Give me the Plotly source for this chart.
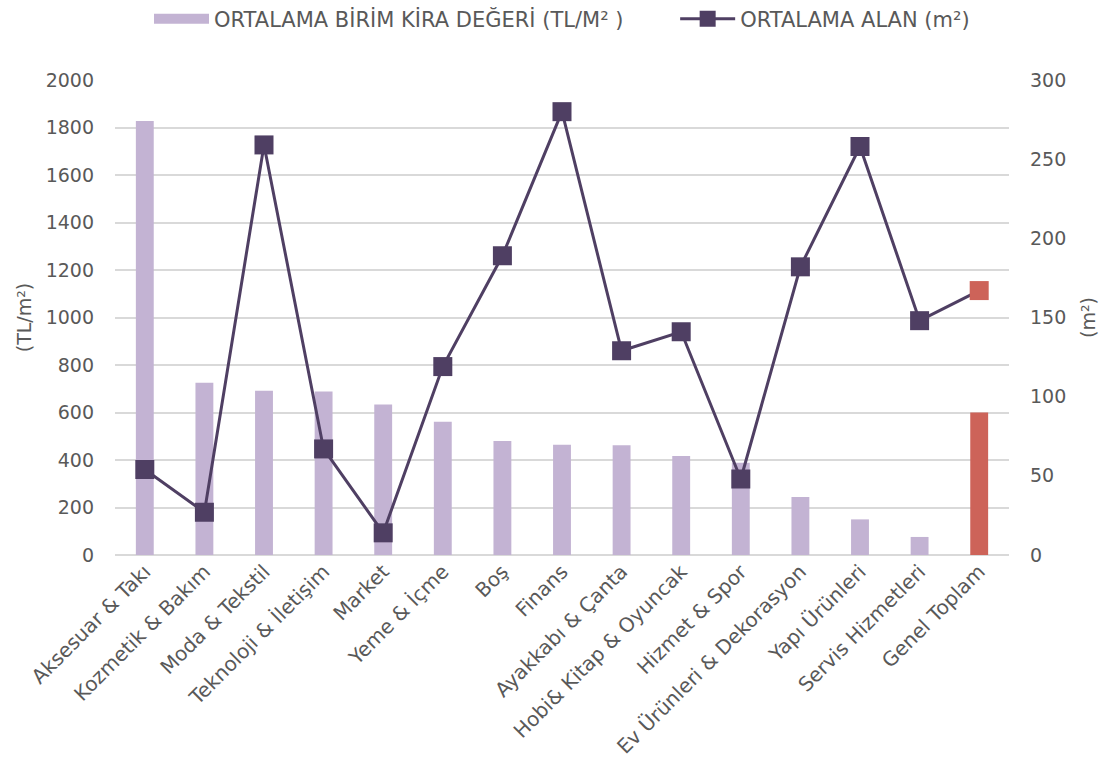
import plotly.graph_objects as go

categories = ["Aksesuar & Takı", "Kozmetik & Bakım", "Moda & Tekstil", "Teknoloji & İletişim",
              "Market", "Yeme & İçme", "Boş", "Finans", "Ayakkabı & Çanta",
              "Hobi& Kitap & Oyuncak", "Hizmet & Spor", "Ev Ürünleri & Dekorasyon",
              "Yapı Ürünleri", "Servis Hizmetleri", "Genel Toplam"]
rent_values = [1827, 725, 692, 688, 634, 561, 480, 464, 462, 417, 388, 244, 150, 76, 600]
area_values = [54, 27, 259, 67, 14, 119, 189, 280, 129, 141, 48, 182, 258, 148, 167]

bar_name = "ORTALAMA BİRİM KİRA DEĞERİ (TL/M² )"
line_name = "ORTALAMA ALAN (m²)"

BAR_COLOR = "#c3b3d3"
LINE_COLOR = "#4f3f63"
HIGHLIGHT = "#cd6359"

bar_colors = [BAR_COLOR] * (len(categories) - 1) + [HIGHLIGHT]
marker_colors = [LINE_COLOR] * (len(categories) - 1) + [HIGHLIGHT]

FONT = "DejaVu Sans"
GREY = "#595959"

fig = go.Figure()
fig.add_trace(go.Bar(
    x=categories, y=rent_values, name=bar_name, showlegend=False,
    marker=dict(color=bar_colors, line=dict(width=0)),
    yaxis="y",
))
# legend entry for the bars (wide swatch like the reference)
fig.add_trace(go.Scatter(
    x=[None], y=[None], name=bar_name + "\u00a0" * 7, mode="lines",
    line=dict(color=BAR_COLOR, width=14), showlegend=True, yaxis="y",
))
fig.add_trace(go.Scatter(
    x=categories, y=area_values, name=line_name, mode="lines+markers",
    line=dict(color=LINE_COLOR, width=3),
    marker=dict(symbol="square", size=19, color=marker_colors, line=dict(width=0)),
    yaxis="y2",
))

fig.update_layout(
    width=1115, height=774,
    margin=dict(l=115, r=106, t=80, b=219, autoexpand=False),
    paper_bgcolor="white", plot_bgcolor="white",
    font=dict(family=FONT, color=GREY, size=18),
    bargap=0.7,
    showlegend=True,
    legend=dict(orientation="h", x=0.5, xanchor="center", yref="container",
                y=1 - 19 / 774, yanchor="middle",
                font=dict(size=21, color=GREY), itemwidth=55, traceorder="normal",
                tracegroupgap=0),
    xaxis=dict(tickangle=-45, tickfont=dict(size=20, color=GREY), showgrid=False,
               showline=False, ticks="", automargin=False,
               range=[-0.5, len(categories) - 0.5]),
    yaxis=dict(range=[0, 2000], dtick=200, tick0=0, showgrid=True, gridcolor="#d9d9d9",
               gridwidth=1.5, zeroline=True, zerolinecolor="#d9d9d9", zerolinewidth=1.5,
               tickfont=dict(size=19, color=GREY), ticks="", ticklabelstandoff=20,
               title=dict(text="(TL/m²)", font=dict(size=19, color=GREY), standoff=8),
               automargin=False),
    yaxis2=dict(range=[0, 300], dtick=50, tick0=0, overlaying="y", side="right",
                showgrid=False, zeroline=False, tickfont=dict(size=19, color=GREY),
                ticks="", ticklabelstandoff=20,
                title=dict(text="(m²)", font=dict(size=19, color=GREY), standoff=16),
                automargin=False),
)

fig.write_html("out.html", config={"displayModeBar": False},
               post_script="document.body.style.margin='0';")
